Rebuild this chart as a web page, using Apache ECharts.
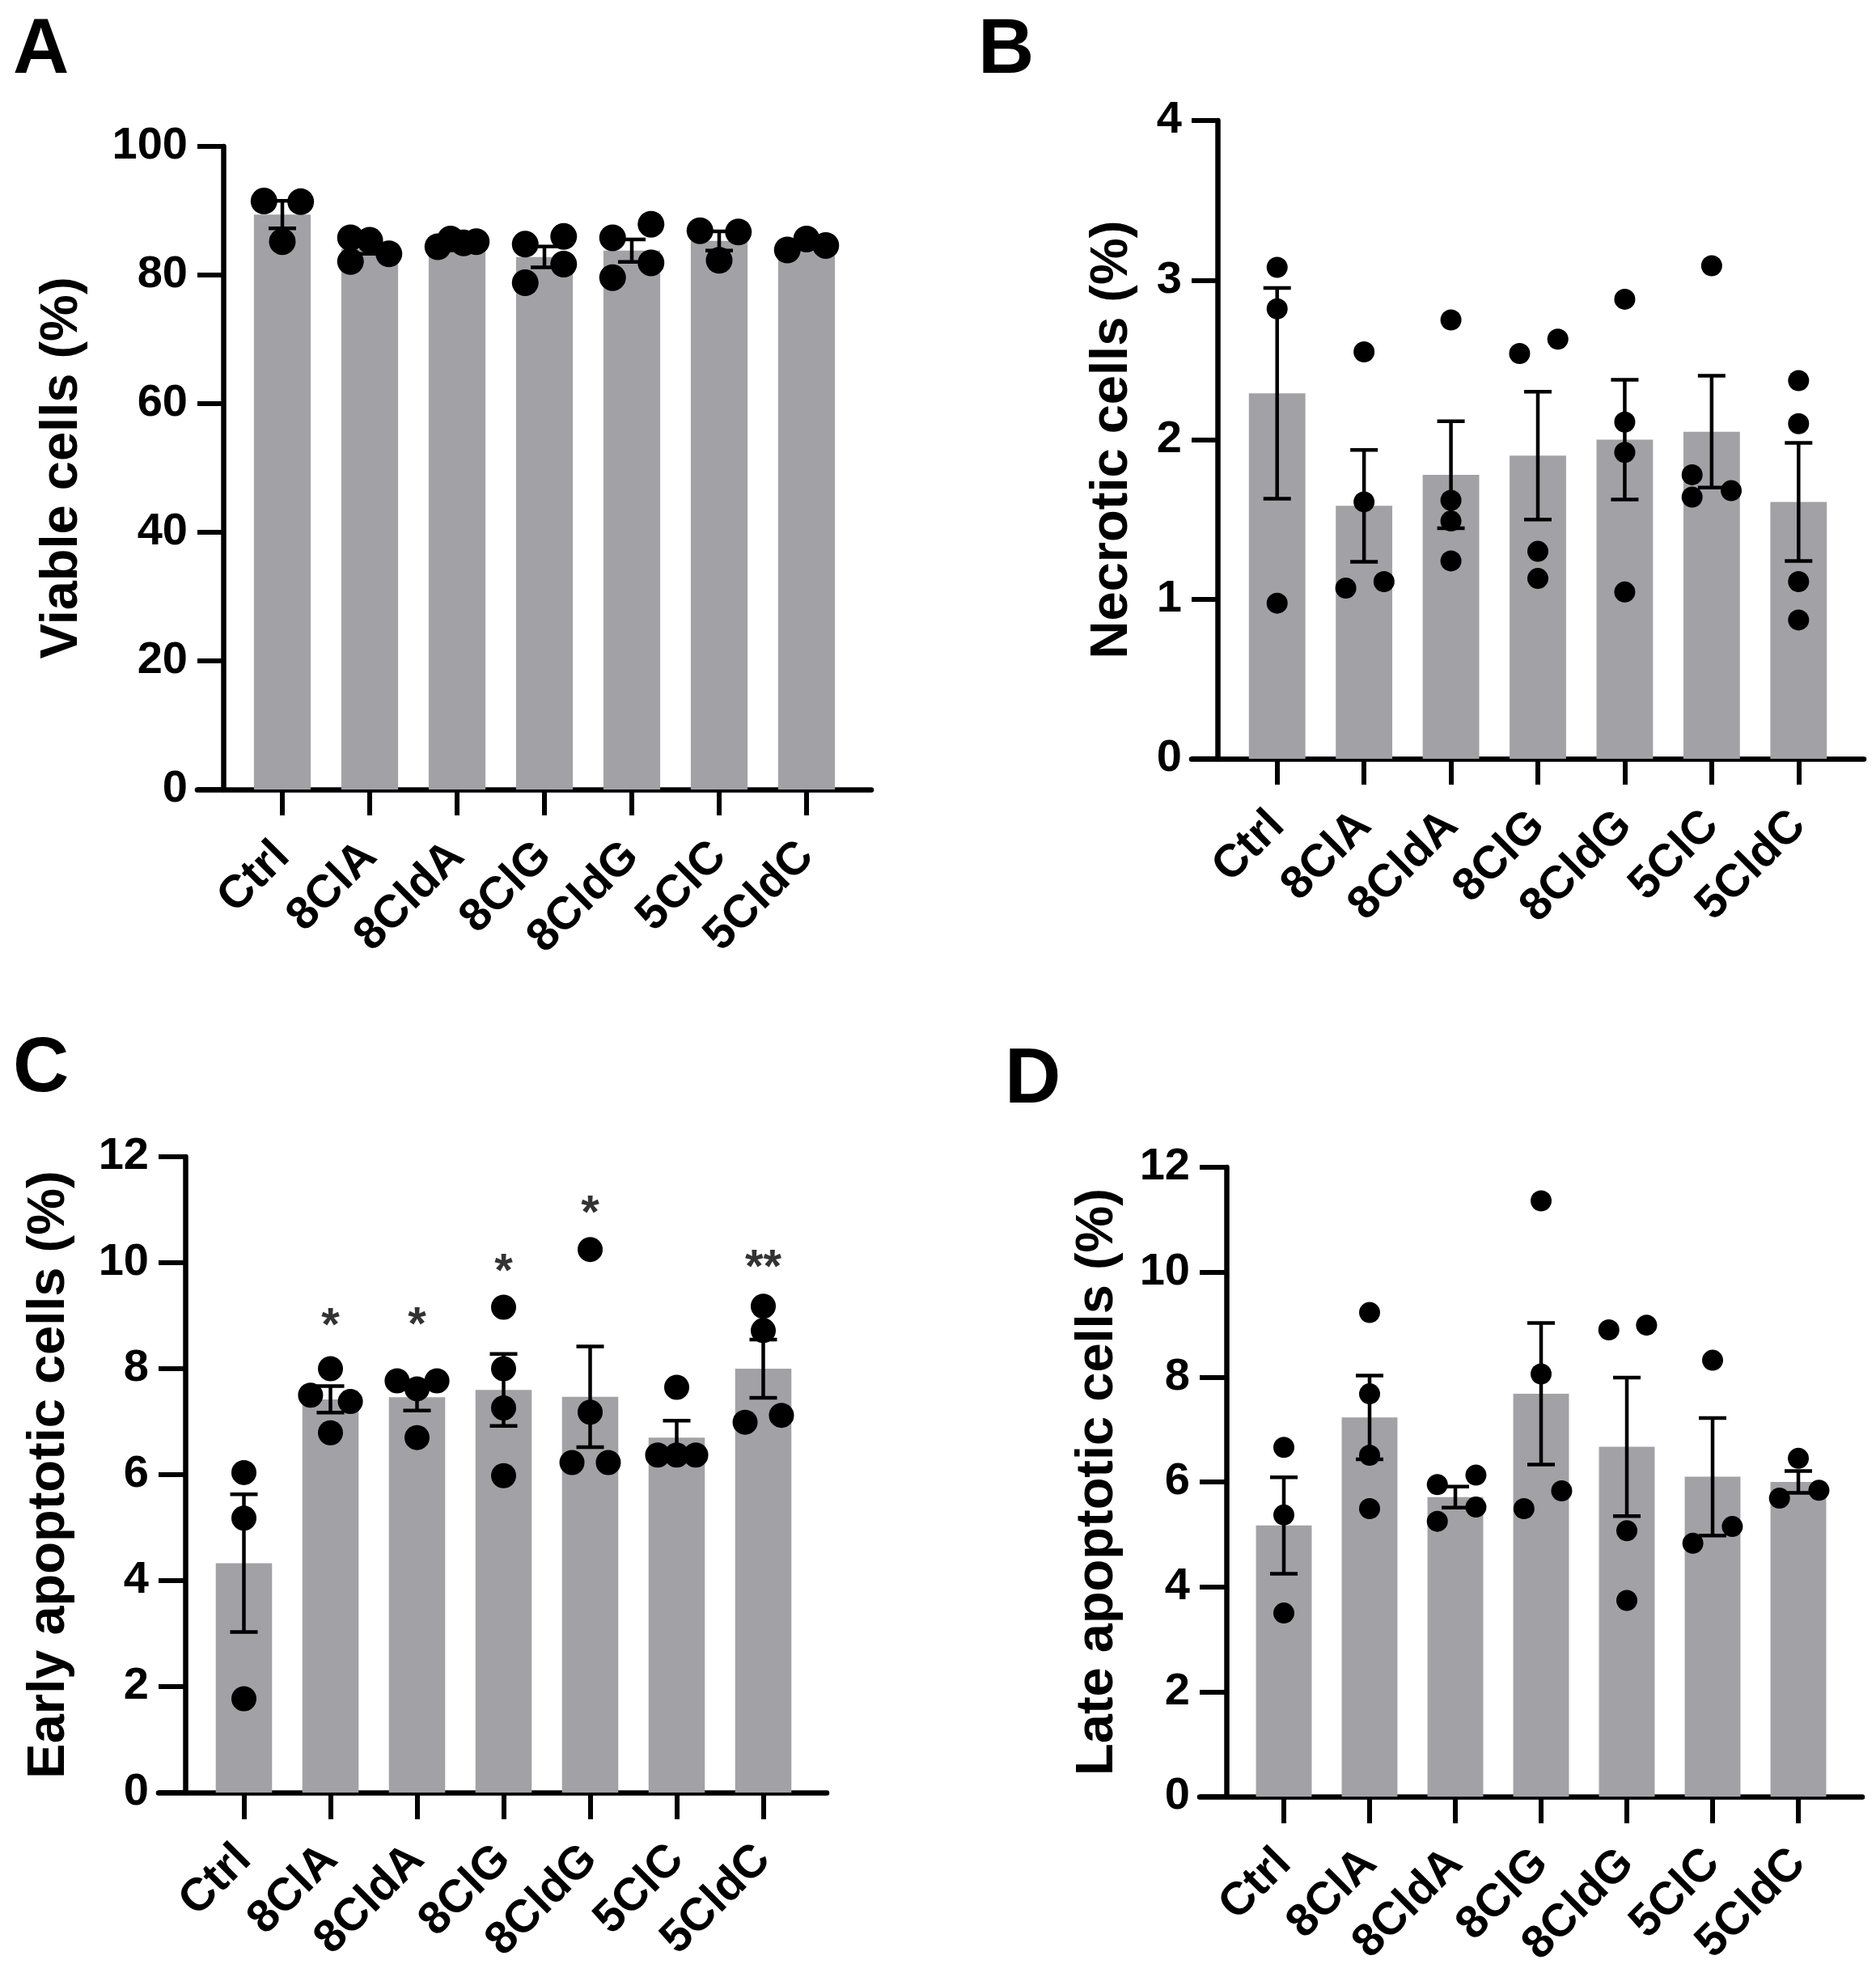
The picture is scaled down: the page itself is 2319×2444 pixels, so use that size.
<!DOCTYPE html>
<html lang="en">
<head>
  <meta charset="utf-8" />
  <script src="https://cdn.jsdelivr.net/npm/echarts@6.0.0/dist/echarts.min.js"></script>
</head>
<body style="margin: 0; background: #fff">
  <div id="container" style="width: 2319px; height: 2444px"></div>
  <script>
    // categories shared by all four panels
    const categories = ["Ctrl", "8ClA", "8CldA", "8ClG", "8CldG", "5ClC", "5CldC"];

    // A - viable cells
    const viableMean = [89.4, 84.1, 85.0, 82.8, 83.8, 85.3, 84.7];
    const viableSem = [2.15, 0.8, 0.3, 1.62, 1.75, 1.5, 0.5];
    const viableDots = [[91.5, 91.4, 85.2], [85.8, 85.4, 82.1, 83.3], [84.4, 85.6, 85.0, 85.2], [84.8, 86.0, 81.7, 78.8], [85.8, 87.9, 81.9, 79.6], [86.9, 86.7, 82.3], [83.9, 85.6, 84.6]];

    // B - necrotic cells
    const necroMean = [2.29, 1.585, 1.78, 1.9, 2.0, 2.05, 1.61];
    const necroSem = [0.66, 0.35, 0.335, 0.4, 0.375, 0.35, 0.37];
    const necroDots = [[3.08, 2.82, 0.975], [2.55, 1.61, 1.07, 1.11], [2.75, 1.62, 1.49, 1.24], [2.54, 2.63, 1.3, 1.13], [2.88, 2.11, 1.92, 1.045], [3.09, 1.78, 1.64, 1.68], [2.37, 2.1, 1.11, 0.87]];

    // C - early apoptotic cells
    const earlyMean = [4.33, 7.42, 7.46, 7.6, 7.47, 6.7, 8.0];
    const earlySem = [1.3, 0.25, 0.25, 0.68, 0.95, 0.32, 0.55];
    const earlyDots = [[6.04, 5.18, 1.77], [8.0, 7.5, 7.38, 6.79], [7.77, 7.77, 7.62, 6.7], [9.16, 8.0, 7.26, 5.98], [10.25, 7.18, 6.23, 6.23], [7.65, 6.37, 6.37, 6.37], [9.18, 8.72, 6.99, 7.12]];
    const earlySig = ["", "*", "*", "*", "*", "", "**"];
    const earlySigAt = [null, 8.98, 9.0, 10.0, 11.1, null, 10.08];

    // D - late apoptotic cells
    const lateMean = [5.17, 7.23, 5.71, 7.68, 6.67, 6.1, 6.0];
    const lateSem = [0.92, 0.8, 0.2, 1.35, 1.32, 1.12, 0.21];
    const lateDots = [[6.66, 5.37, 3.5], [9.23, 7.68, 6.51, 5.49], [5.95, 6.13, 5.25, 5.52], [11.36, 8.06, 5.49, 5.83], [8.9, 8.99, 5.07, 3.74], [8.32, 4.83, 5.15], [6.45, 5.69, 5.84]];

    // horizontal scatter of the dots, as a fraction of one category band
    const viableJitter = [[-0.21, 0.21, 0], [-0.22, 0, -0.22, 0.22], [-0.22, -0.075, 0.075, 0.22], [-0.22, 0.22, 0.22, -0.22], [-0.22, 0.22, 0.22, -0.22], [-0.22, 0.22, 0], [-0.22, 0, 0.22]];
    const necroJitter = [[0, 0, 0], [0, 0, -0.21, 0.23], [0, 0, 0, 0], [-0.21, 0.23, 0, 0], [0, 0, 0, 0], [0, -0.225, -0.225, 0.225], [0, 0, 0, 0]];
    const earlyJitter = [[0, 0, 0], [0, -0.23, 0.23, 0], [-0.23, 0.23, 0, 0], [0, 0, 0, 0], [0, 0, -0.21, 0.21], [0, -0.22, 0, 0.22], [0, 0, -0.21, 0.21]];
    const lateJitter = [[0, 0, 0], [0, 0, 0, 0], [-0.21, 0.24, -0.21, 0.24], [0, 0, -0.2, 0.24], [-0.21, 0.23, 0, 0], [0, -0.23, 0.23], [0, -0.22, 0.24]];

    const FONT = "Liberation Sans";
    const BAR = "#a2a2a6";

    const panels = [
      { letter: "A", name: "Viable cells (%)", max: 100, interval: 20, mean: viableMean, sem: viableSem, dots: viableDots, jitter: viableJitter,
        left: 295, top: 181, width: 756, height: 795, offset: 19, tick: 32, lineEnd: 1077, nameGap: 166, dot: 33, lx: 16, ly: 16 },
      { letter: "B", name: "Necrotic cells (%)", max: 4, interval: 1, mean: necroMean, sem: necroSem, dots: necroDots, jitter: necroJitter,
        left: 1525, top: 149, width: 752, height: 789, offset: 20, tick: 32, lineEnd: 2304, nameGap: 97, dot: 26, lx: 1209, ly: 16 },
      { letter: "C", name: "Early apoptotic cells (%)", max: 12, interval: 2, mean: earlyMean, sem: earlySem, dots: earlyDots, jitter: earlyJitter,
        sig: earlySig, sigAt: earlySigAt,
        left: 248, top: 1430, width: 749, height: 786, offset: 19, tick: 33, lineEnd: 1022, nameGap: 135, dot: 31, lx: 16, ly: 1275 },
      { letter: "D", name: "Late apoptotic cells (%)", max: 12, interval: 2, mean: lateMean, sem: lateSem, dots: lateDots, jitter: lateJitter,
        left: 1534, top: 1443, width: 742, height: 778, offset: 18, tick: 33, lineEnd: 2302, nameGap: 126, dot: 26, lx: 1242, ly: 1289 },
    ];

    const option = {
      animation: false,
      backgroundColor: "#fff",
      title: [],
      grid: [],
      xAxis: [],
      yAxis: [],
      series: [],
    };

    const axisStyle = { color: "#000", width: 6.5 };
    const tickStyle = { color: "#000", width: 6 };

    panels.forEach(function (p) {
      const g = option.grid.length;
      const axisX = p.left - p.offset;
      // data grid
      option.grid.push({ left: p.left, top: p.top, width: p.width, height: p.height, outerBoundsMode: "none" });
      // grid that only carries the long x axis line
      option.grid.push({ left: axisX - p.tick, top: p.top, width: p.lineEnd - axisX + p.tick, height: p.height, outerBoundsMode: "none" });

      const xCat = option.xAxis.length;
      option.xAxis.push({
        type: "category", gridIndex: g, data: categories,
        axisLine: { show: false },
        axisTick: { show: true, alignWithLabel: true, length: p.tick, lineStyle: tickStyle },
        axisLabel: { interval: 0, rotate: 45, margin: 74, fontSize: 57, fontWeight: "bold", fontFamily: FONT, color: "#000" },
      });
      const xVal = option.xAxis.length;
      option.xAxis.push({ type: "value", gridIndex: g, min: -0.5, max: categories.length - 0.5, show: false });
      const xLine = option.xAxis.length;
      option.xAxis.push({
        type: "value", gridIndex: g + 1, min: 0, max: 1,
        axisLine: { show: true, onZero: false, lineStyle: axisStyle },
        axisTick: { show: false }, axisLabel: { show: false }, splitLine: { show: false },
      });

      const yMain = option.yAxis.length;
      option.yAxis.push({
        type: "value", gridIndex: g, min: 0, max: p.max, interval: p.interval, offset: p.offset,
        axisLine: { show: true, onZero: false, lineStyle: axisStyle },
        axisTick: { show: true, length: p.tick, lineStyle: tickStyle },
        axisLabel: { margin: p.tick + 12, fontSize: 56, fontWeight: "bold", fontFamily: FONT, color: "#000" },
        splitLine: { show: false },
        name: p.name, nameLocation: "middle", nameGap: p.nameGap,
        nameTextStyle: { fontSize: 65, fontWeight: "bold", fontFamily: FONT, color: "#000" },
      });
      const yLine = option.yAxis.length;
      option.yAxis.push({ type: "value", gridIndex: g + 1, min: 0, max: 1, show: false });

      option.title.push({
        text: p.letter, left: p.lx, top: p.ly, padding: 0,
        textStyle: { fontSize: 96, fontWeight: "bold", fontFamily: FONT, color: "#000" },
      });

      // empty series so the line-only grid gets laid out
      option.series.push({ type: "scatter", xAxisIndex: xLine, yAxisIndex: yLine, data: [], silent: true });

      option.series.push({
        type: "bar", xAxisIndex: xCat, yAxisIndex: yMain, data: p.mean,
        barWidth: "65%", itemStyle: { color: BAR }, z: 1, silent: true,
      });

      option.series.push({
        type: "custom", xAxisIndex: xCat, yAxisIndex: yMain, z: 3, silent: true,
        data: p.mean.map(function (m, i) { return [i, m, p.sem[i]]; }),
        renderItem: function (params, api) {
          const i = api.value(0), m = api.value(1), s = api.value(2);
          const hi = api.coord([i, m + s]);
          const lo = api.coord([i, m - s]);
          const cap = 17;
          const st = { stroke: "#000", lineWidth: 4.5 };
          return {
            type: "group",
            children: [
              { type: "line", shape: { x1: hi[0], y1: hi[1], x2: lo[0], y2: lo[1] }, style: st },
              { type: "line", shape: { x1: hi[0] - cap, y1: hi[1], x2: hi[0] + cap, y2: hi[1] }, style: st },
              { type: "line", shape: { x1: lo[0] - cap, y1: lo[1], x2: lo[0] + cap, y2: lo[1] }, style: st },
            ],
          };
        },
      });

      const pts = [];
      p.dots.forEach(function (vals, i) {
        vals.forEach(function (v, k) { pts.push([i + p.jitter[i][k], v]); });
      });
      option.series.push({
        type: "scatter", xAxisIndex: xVal, yAxisIndex: yMain, data: pts,
        symbolSize: p.dot, itemStyle: { color: "#000", opacity: 1 }, z: 4, silent: true,
      });

      if (p.sig) {
        const marks = [];
        p.sig.forEach(function (s, i) {
          if (s) marks.push({ value: [i, p.sigAt[i]], name: s });
        });
        option.series.push({
          type: "scatter", xAxisIndex: xVal, yAxisIndex: yMain, data: marks,
          symbolSize: 1, itemStyle: { color: "rgba(0,0,0,0)" }, z: 5, silent: true,
          label: {
            show: true, position: "inside", offset: [0, 13], formatter: "{b}",
            fontSize: 58, fontWeight: "bold", fontFamily: FONT, color: "#000",
          },
        });
      }
    });

    const chart = echarts.init(document.getElementById("container"), null, { renderer: "canvas" });
    chart.setOption(option);
  </script>
</body>
</html>
